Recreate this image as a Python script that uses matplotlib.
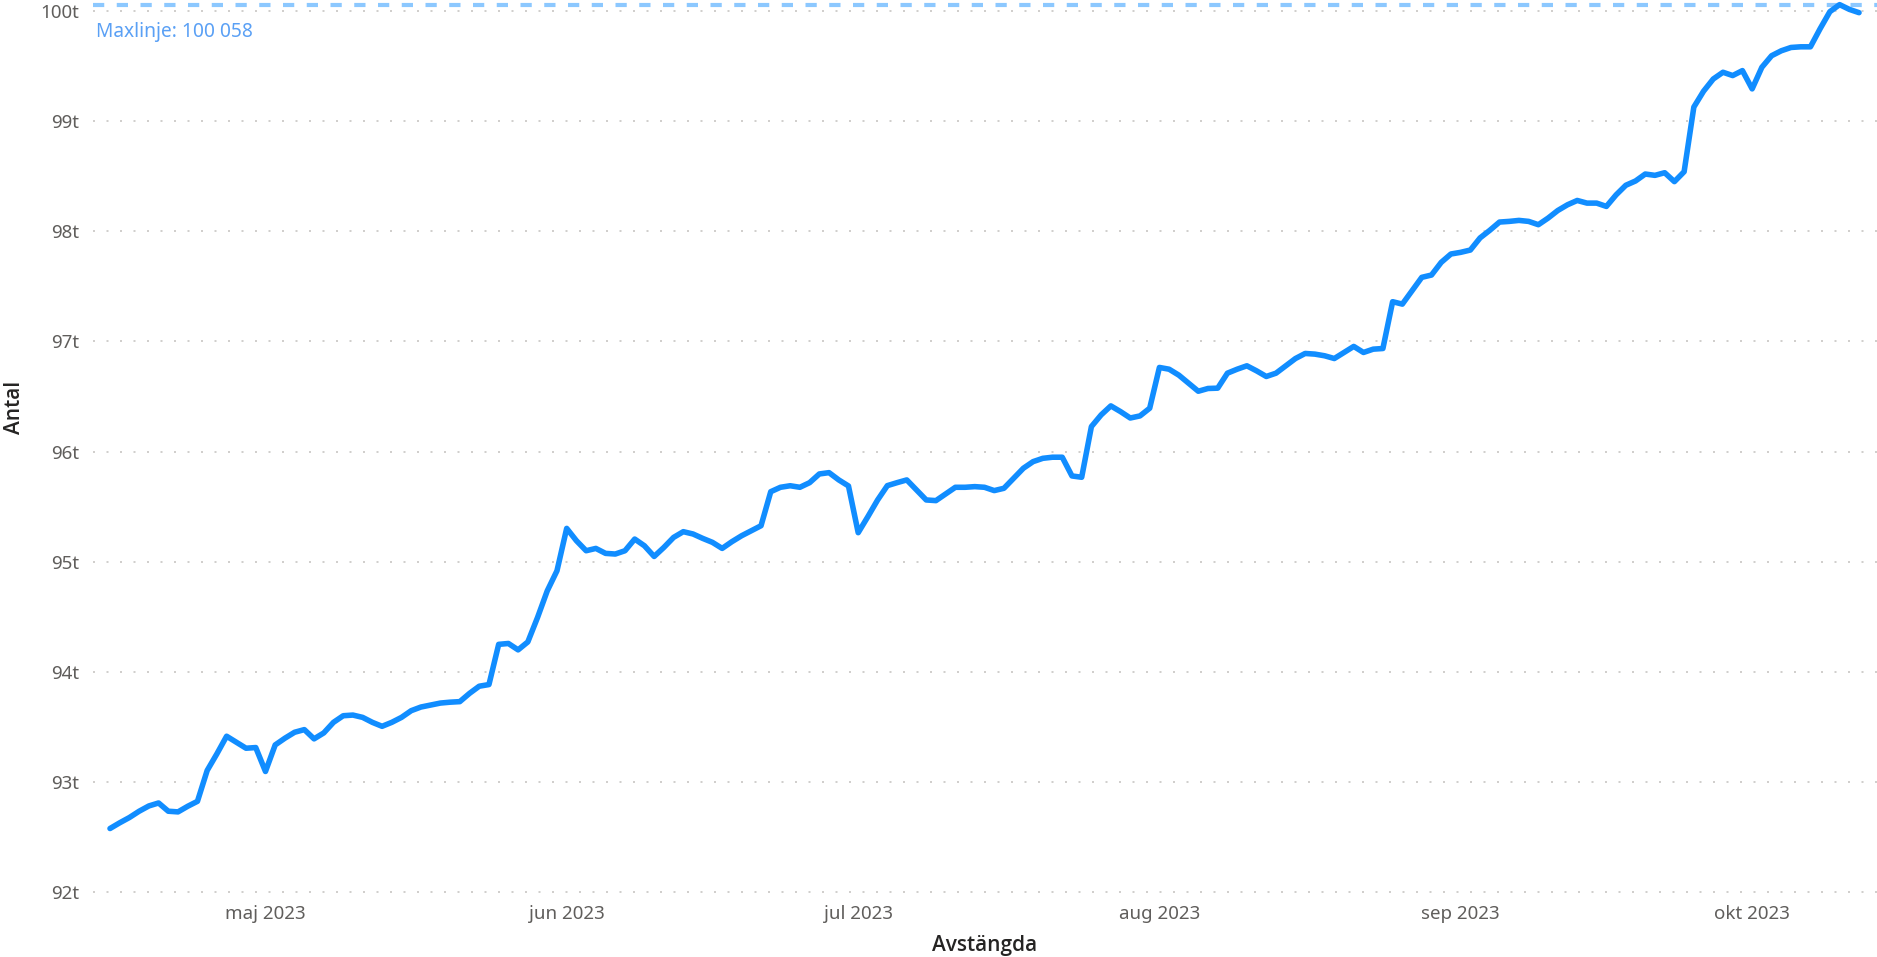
import matplotlib
matplotlib.use("Agg")
import matplotlib.pyplot as plt
import matplotlib.dates as mdates
import pandas as pd
import numpy as np

# ---- data ----
start_date = "2023-04-15"
antal = [
    92578, 92630, 92678, 92735, 92783, 92810, 92735, 92729, 92780, 92825,
    93105, 93256, 93416, 93361, 93307, 93313, 93096, 93337, 93398, 93452,
    93476, 93392, 93446, 93542, 93602, 93608, 93587, 93542, 93506, 93542,
    93587, 93648, 93681, 93699, 93717, 93725, 93730, 93805, 93870, 93885,
    94250, 94258, 94200, 94272, 94494, 94736, 94918, 95303, 95191, 95100,
    95121, 95076, 95070, 95100, 95206, 95145, 95048, 95130, 95221, 95273,
    95252, 95212, 95176, 95121, 95182, 95236, 95282, 95327, 95636, 95676,
    95690, 95676, 95718, 95797, 95809, 95743, 95688, 95264, 95410, 95561,
    95691, 95718, 95743, 95652, 95561, 95555, 95616, 95676, 95676, 95682,
    95676, 95646, 95667, 95758, 95849, 95909, 95939, 95949, 95949, 95779,
    95767, 96227, 96333, 96415, 96363, 96305, 96324, 96394, 96764, 96748,
    96694, 96621, 96548, 96573, 96576, 96712, 96748, 96779, 96733, 96682,
    96712, 96779, 96845, 96891, 96885, 96870, 96845, 96900, 96955, 96900,
    96930, 96936, 97361, 97339, 97461, 97582, 97603, 97718, 97794, 97809,
    97830, 97940, 98009, 98084, 98090, 98099, 98090, 98060, 98120, 98189,
    98241, 98280, 98256, 98256, 98226, 98331, 98418, 98457, 98520, 98508,
    98532, 98451, 98541, 99128, 99272, 99383, 99444, 99414, 99459, 99293,
    99489, 99594, 99639, 99669, 99675, 99675, 99840, 99994, 100058, 100015,
    99985,
]
month_ticks = ["2023-05-01", "2023-06-01", "2023-07-01", "2023-08-01", "2023-09-01", "2023-10-01"]
month_labels = ["maj 2023", "jun 2023", "jul 2023", "aug 2023", "sep 2023", "okt 2023"]
y_ticks = [92000, 93000, 94000, 95000, 96000, 97000, 98000, 99000, 100000]
y_labels = ["92t", "93t", "94t", "95t", "96t", "97t", "98t", "99t", "100t"]
x_title = "Avstängda"
y_title = "Antal"

dates = pd.date_range(start_date, periods=len(antal), freq="D")
max_val = max(antal)
max_text = "Maxlinje: " + f"{max_val:,}".replace(",", " ")

# ---- style ----
plt.rcParams["font.family"] = ["Noto Sans", "DejaVu Sans"]
LINE = "#118DFF"
MAXC = "#8CC8FF"
MAXT = "#5AA0F5"
TICKC = "#605E5C"
TITLEC = "#252423"

W, H = 1877, 957
fig = plt.figure(figsize=(W / 100, H / 100), dpi=100)
ax = fig.add_axes([93 / W, 1 - 901 / H, (W - 93) / W, 901 / H])

ax.plot(dates, antal, color=LINE, lw=4.0, solid_joinstyle="round", solid_capstyle="round", zorder=3)

# max line
ax.axhline(max_val, color=MAXC, lw=3.0, dashes=(2.7, 3.0), zorder=2)
ax.text(96 / W, 1 - 32 / H, max_text, transform=fig.transFigure, color=MAXT,
        fontsize=13.8, va="center", ha="left")

# axes limits
x0 = mdates.date2num(dates[0]) - 1.75
x1 = mdates.date2num(dates[-1]) + 1.85
ax.set_xlim(x0, x1)
ax.set_ylim(91920, 100100)

# grid
for yv in y_ticks:
    ax.axhline(yv, color="#C8C6C4", lw=1.2, dashes=(1.2, 6.9), zorder=1)

ax.set_yticks(y_ticks)
ax.set_yticklabels(y_labels)
ax.set_xticks([mdates.date2num(pd.Timestamp(d)) for d in month_ticks])
ax.set_xticklabels(month_labels)
ax.tick_params(axis="both", length=0, colors=TICKC, labelsize=13.5)
ax.tick_params(axis="y", pad=10)
ax.tick_params(axis="x", pad=3)
for s in ax.spines.values():
    s.set_visible(False)

title_font = ["Open Sans", "Lato", "DejaVu Sans"]
fig.text(985 / W, 1 - 945 / H, x_title, ha="center", va="center", fontsize=15,
         color=TITLEC, fontweight="semibold", family=title_font)
fig.text(14 / W, 1 - 407 / H, y_title, ha="center", va="center", fontsize=15,
         color=TITLEC, fontweight="semibold", rotation=90, family=title_font)

fig.savefig("out.png", dpi=100)
